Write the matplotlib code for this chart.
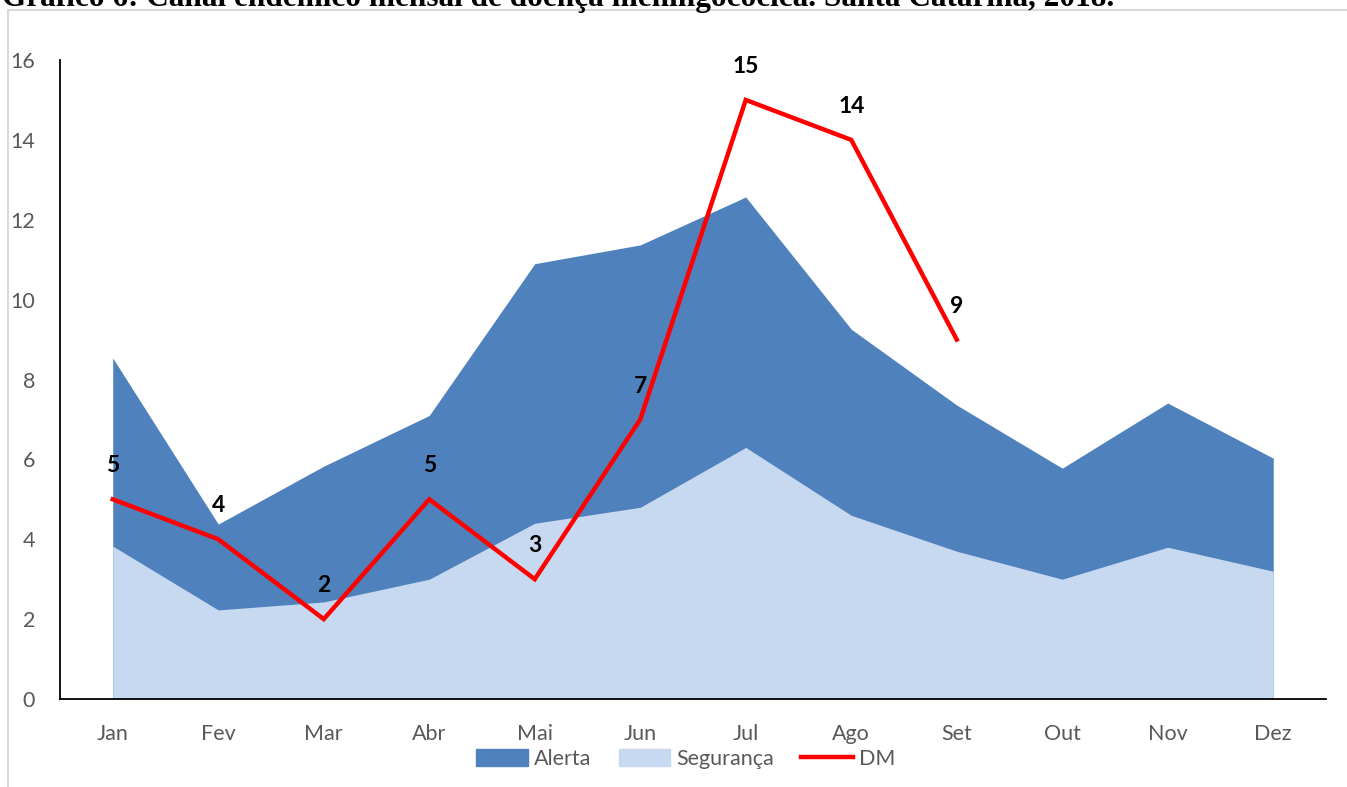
import matplotlib
matplotlib.use("Agg")
import matplotlib.pyplot as plt
from matplotlib.patches import Patch, Rectangle
from matplotlib.lines import Line2D
import numpy as np

# dados do canal endêmico
meses = ["Jan", "Fev", "Mar", "Abr", "Mai", "Jun", "Jul", "Ago", "Set", "Out", "Nov", "Dez"]
alerta = [8.54, 4.38, 5.83, 7.10, 10.90, 11.37, 12.57, 9.26, 7.36, 5.78, 7.41, 6.03]
seguranca = [3.83, 2.23, 2.43, 3.00, 4.40, 4.80, 6.30, 4.60, 3.70, 3.00, 3.80, 3.20]
dm = [5, 4, 2, 5, 3, 7, 15, 14, 9]
titulo = "Gráfico 6: Canal endêmico mensal de doença meningocócica. Santa Catarina, 2018."

plt.rcParams["font.family"] = ["Lato", "DejaVu Sans"]

W, H = 1347, 787
fig = plt.figure(figsize=(W / 100, H / 100), dpi=100)
ax = fig.add_axes([60 / W, 1 - 699 / H, (1326 - 60) / W, (699 - 60) / H])

x = np.arange(len(meses))
ax.fill_between(x, 0, alerta, color="#4F81BD", linewidth=0, zorder=1)
ax.fill_between(x, 0, seguranca, color="#C6D9F0", linewidth=0, zorder=2)
xd = np.arange(len(dm))
ax.plot(xd, dm, color="#FF0000", linewidth=3.2, solid_joinstyle="miter", zorder=3)
for xi, v in zip(xd, dm):
    ax.annotate(str(v), (xi, v), xytext=(0, 24), textcoords="offset points",
                ha="center", va="center", fontsize=16.5, fontweight="bold", color="black")

ax.set_xlim(-0.5, len(meses) - 0.5)
ax.set_ylim(0, 16)
ax.set_yticks(range(0, 17, 2))
ax.set_xticks(x)
ax.set_xticklabels(meses)
ax.tick_params(length=0, labelsize=15.5, labelcolor="#595959")
ax.tick_params(axis="y", pad=18)
ax.tick_params(axis="x", pad=18)
for s in ["top", "right"]:
    ax.spines[s].set_visible(False)
for s in ["left", "bottom"]:
    ax.spines[s].set_linewidth(1.3)
    ax.spines[s].set_color("black")

handles = [Patch(color="#4F81BD", label="Alerta"),
           Patch(color="#C6D9F0", label="Segurança"),
           Line2D([], [], color="#FF0000", linewidth=3.2, label="DM")]
fig.legend(handles=handles, loc="center", bbox_to_anchor=(686 / W, 1 - 759 / H),
           ncol=3, frameon=False, fontsize=15.5, handlelength=2.4, handleheight=0.85,
           columnspacing=1.25, handletextpad=0.3, labelcolor="#595959")

# moldura cinza da área do gráfico
fig.patches.append(Rectangle((8 / W, -0.05), 1.1, 1 - 10 / H + 0.05, transform=fig.transFigure,
                             fill=False, edgecolor="#D9D9D9", linewidth=1.5))

fig.text(2 / W, 1 - 6 / H, titulo, family="Liberation Serif", fontweight="bold",
         fontsize=22.5, ha="left", va="baseline")

fig.savefig("out.png", dpi=100)
